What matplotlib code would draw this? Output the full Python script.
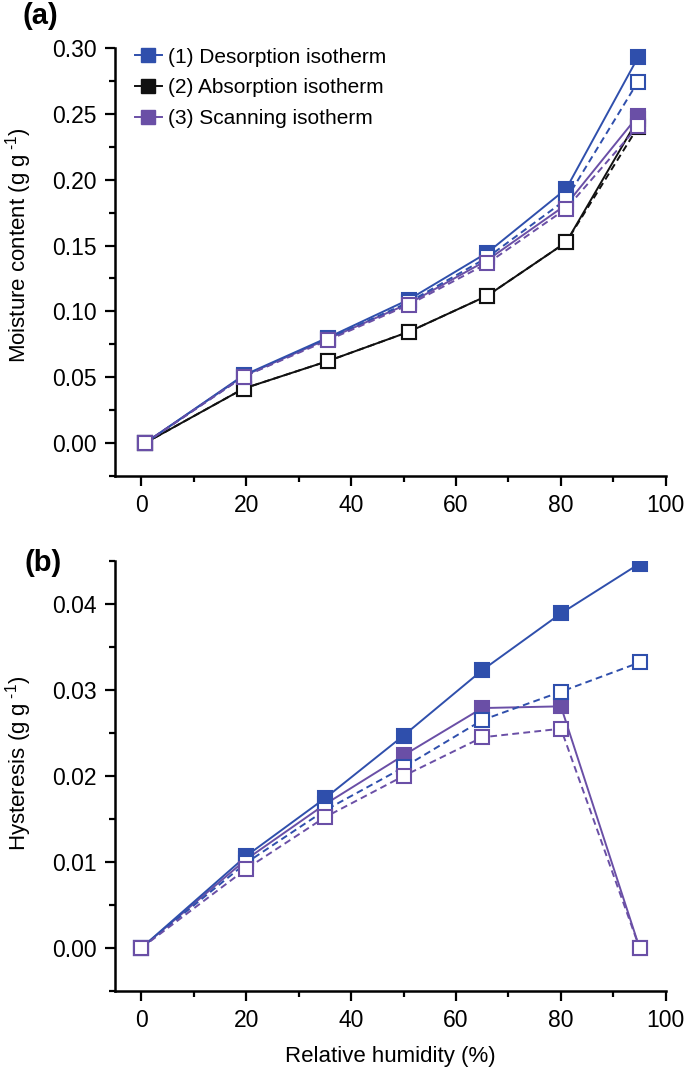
import matplotlib
matplotlib.use('Agg')
import matplotlib.pyplot as plt
from matplotlib.lines import Line2D
from matplotlib.ticker import MultipleLocator, FormatStrFormatter

plt.rcParams['font.family'] = ['Liberation Sans', 'DejaVu Sans']
plt.rcParams['mathtext.fontset'] = 'custom'
plt.rcParams['mathtext.rm'] = 'Liberation Sans'
plt.rcParams['mathtext.it'] = 'Liberation Sans'

BLUE = '#2f4fac'
PURPLE = '#6a4fa6'
BLACK = '#111111'

# (a) moisture content vs relative humidity
rh_a = [0.7, 19.5, 35.5, 51, 66, 81, 94.7]
des_filled = [0, 0.0515, 0.080, 0.109, 0.1447, 0.193, 0.2929]
des_open = [0, 0.0505, 0.079, 0.107, 0.141, 0.185, 0.2745]
abs_solid = [0, 0.0414, 0.0622, 0.0845, 0.112, 0.1525, 0.246]
abs_dashed = [0, 0.0414, 0.0622, 0.0845, 0.112, 0.1525, 0.240]
scan_filled = [0, 0.051, 0.079, 0.106, 0.139, 0.181, 0.2485]
scan_open = [0, 0.0505, 0.078, 0.105, 0.1365, 0.178, 0.2406]

# (b) hysteresis vs relative humidity
rh_b = [0, 20, 35, 50, 65, 80, 95]
hys_des_filled = [0, 0.0107, 0.0174, 0.0247, 0.0323, 0.0389, 0.0447]
hys_des_open = [0, 0.0099, 0.0160, 0.0210, 0.0265, 0.0298, 0.0332]
hys_scan_filled = [0, 0.0103, 0.0167, 0.0224, 0.0279, 0.0281, 0.0]
hys_scan_open = [0, 0.0092, 0.0152, 0.0200, 0.0245, 0.0255, 0.0]

legend_labels = ['(1) Desorption isotherm', '(2) Absorption isotherm',
                 '(3) Scanning isotherm']

MS = 9.5
LW = 1.4
DASH = (0, (3.5, 2.2))


def curve(ax, x, y, color, filled, dashed):
    ax.plot(x, y, color=color, lw=LW, ls=DASH if dashed else '-',
            marker='s', ms=MS, mew=1.5, mec=color,
            mfc=color if filled else 'white', zorder=3)


def style(ax):
    for s in ['top', 'right']:
        ax.spines[s].set_visible(False)
    for s in ['left', 'bottom']:
        ax.spines[s].set_linewidth(1.8)
    ax.tick_params(which='major', direction='out', length=7, width=1.6,
                   labelsize=16.5, pad=6)
    ax.tick_params(which='minor', direction='out', length=4.5, width=1.6)
    ax.set_xlim(-5, 100)
    ax.xaxis.set_major_locator(MultipleLocator(20))
    ax.xaxis.set_minor_locator(MultipleLocator(10))


fig = plt.figure(figsize=(6.85, 10.78), dpi=100)
ax1 = fig.add_axes([0.168, 0.5584, 0.804, 0.3971])
ax2 = fig.add_axes([0.168, 0.0807, 0.804, 0.3989])

curve(ax1, rh_a, abs_solid, BLACK, False, False)
curve(ax1, rh_a, abs_dashed, BLACK, False, True)
curve(ax1, rh_a, scan_filled, PURPLE, True, False)
curve(ax1, rh_a, des_filled, BLUE, True, False)
curve(ax1, rh_a, des_open, BLUE, False, True)
curve(ax1, rh_a, scan_open, PURPLE, False, True)

style(ax1)
ax1.set_ylim(-0.025, 0.30)
ax1.yaxis.set_major_locator(MultipleLocator(0.05))
ax1.yaxis.set_minor_locator(MultipleLocator(0.025))
ax1.yaxis.set_major_formatter(FormatStrFormatter('%.2f'))
ax1.set_ylabel('Moisture content (g g$^{\\text{ -1}}$)', fontsize=16)
ax1.yaxis.set_label_coords(-0.148, 0.54)

handles = [Line2D([], [], color=c, lw=LW, marker='s', ms=MS, mfc=c, mec=c)
           for c in [BLUE, BLACK, PURPLE]]
ax1.legend(handles, legend_labels, loc='upper left',
           bbox_to_anchor=(0.013, 1.03), frameon=False, fontsize=15,
           handlelength=1.3, handletextpad=0.3, labelspacing=0.56,
           borderaxespad=0.2)

curve(ax2, rh_b, hys_scan_filled, PURPLE, True, False)
curve(ax2, rh_b, hys_des_filled, BLUE, True, False)
curve(ax2, rh_b, hys_des_open, BLUE, False, True)
curve(ax2, rh_b, hys_scan_open, PURPLE, False, True)

style(ax2)
ax2.set_ylim(-0.005, 0.045)
ax2.yaxis.set_major_locator(MultipleLocator(0.01))
ax2.yaxis.set_minor_locator(MultipleLocator(0.005))
ax2.yaxis.set_major_formatter(FormatStrFormatter('%.2f'))
ax2.set_ylabel('Hysteresis (g g$^{\\text{ -1}}$)', fontsize=16)
ax2.yaxis.set_label_coords(-0.148, 0.53)
ax2.set_xlabel('Relative humidity (%)', fontsize=16, labelpad=10)

fig.text(0.033, 0.998, '(a)', fontsize=21, fontweight='bold', va='top')
fig.text(0.036, 0.491, '(b)', fontsize=21, fontweight='bold', va='top')

fig.savefig('out.png', dpi=100)
